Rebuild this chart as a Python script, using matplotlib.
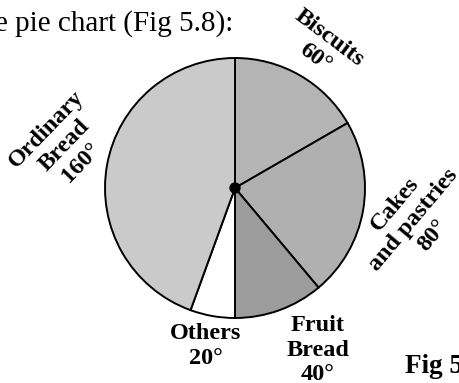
import matplotlib.pyplot as plt

# slice data (degrees)
labels = ["Biscuits\n60°", "Cakes\nand pastries\n80°", "Fruit\nBread\n40°",
          "Others\n20°", "Ordinary\nBread\n160°"]
degrees = [60, 80, 40, 20, 160]
colors = ["#b4b4b4", "#b0b0b0", "#9c9c9c", "#ffffff", "#cacaca"]

# label placement in pixel coords (x, y from top) and rotation
label_pos = [(322, 48), (414, 220), (318, 350), (206, 346), (64, 146)]
label_rot = [-37, 50, 0, 0, 46]

W, H = 459, 383
fig = plt.figure(figsize=(W / 100, H / 100), dpi=100)
ax = fig.add_axes([0, 0, 1, 1])

cx, cy, r = 235, H - 188, 130
ax.pie(degrees, colors=colors, startangle=90, counterclock=False,
       center=(cx, cy), radius=r,
       wedgeprops=dict(edgecolor="black", linewidth=1.4))
ax.set_xlim(0, W)
ax.set_ylim(0, H)
ax.set_aspect("equal")
ax.axis("off")
ax.add_patch(plt.Circle((cx, cy), 5, color="black", zorder=5))

serif = "Liberation Serif"
for lab, (x, y), rot in zip(labels, label_pos, label_rot):
    ax.text(x, H - y, lab, rotation=rot, rotation_mode="anchor",
            ha="center", va="center", multialignment="center",
            fontsize=17.5, fontweight="bold", family=serif, linespacing=1.2)

# surrounding page text (cut at the page edges, as in the scan)
ax.text(-5, H - 31, "e pie chart (Fig 5.8):", ha="left", va="baseline",
        fontsize=21, family=serif)
ax.text(405, H - 373, "Fig 5.8", ha="left", va="baseline",
        fontsize=19.5, fontweight="bold", family=serif)

fig.savefig("out.png", dpi=100)
